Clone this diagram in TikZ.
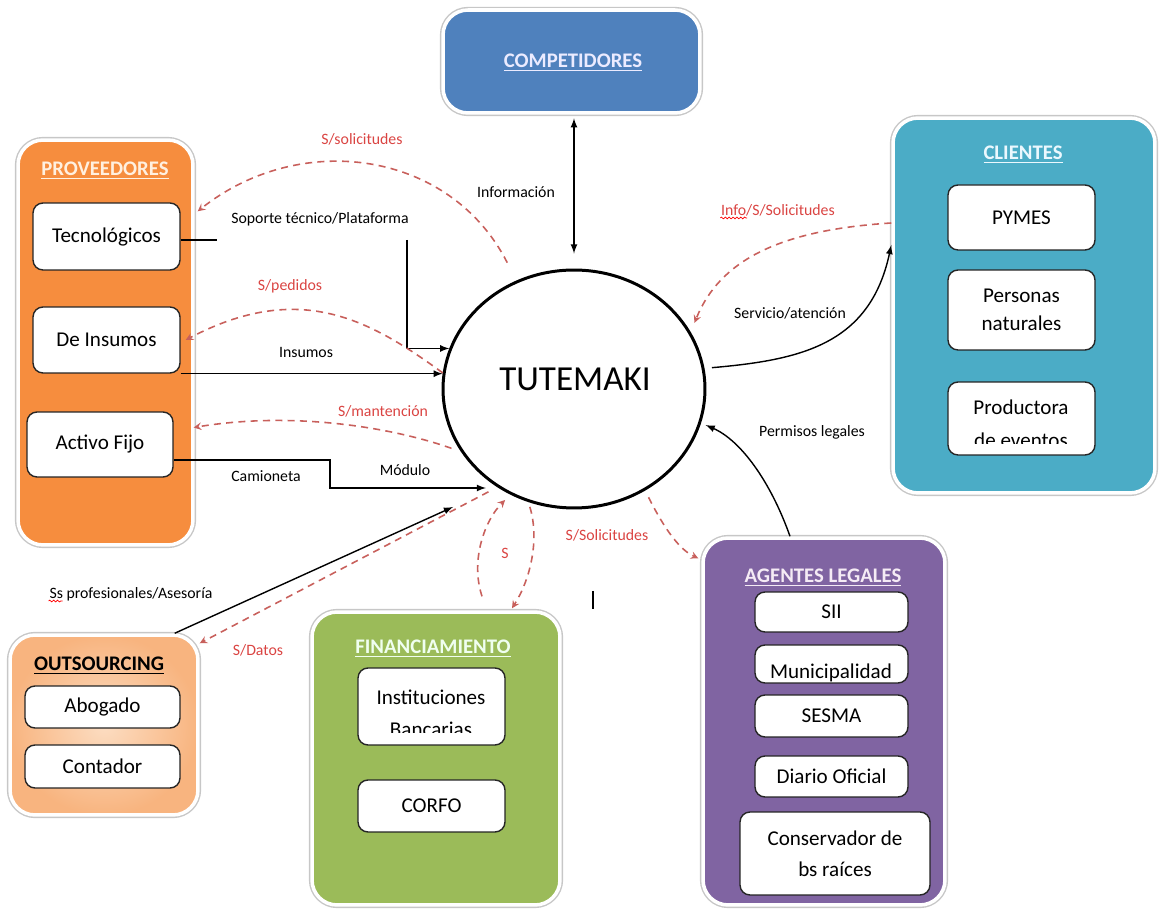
\documentclass[tikz,border=0pt]{standalone}
\usepackage{fontspec}
\setmainfont{Carlito}
\usetikzlibrary{calc,shapes.geometric,decorations.pathmorphing}
\definecolor{compblue}{HTML}{4F81BD}
\definecolor{provorange}{HTML}{F68D3E}
\definecolor{cliteal}{HTML}{4BACC6}
\definecolor{legpurple}{HTML}{8064A2}
\definecolor{fingreen}{HTML}{9BBB59}
\definecolor{outlight}{HTML}{FCDDC2}
\definecolor{outdark}{HTML}{F8B47F}
\definecolor{dashred}{HTML}{C8605C}
\definecolor{moneyred}{HTML}{DA4442}
\tikzset{
  grpbox/.style={draw=white, line width=2pt, rounded corners=0.5cm,
    preaction={draw=black!22, line width=3.6pt}},
  inbox/.style={draw=black!85, line width=0.8pt, fill=white, rounded corners=0.2cm,
    align=center, font=\fontsize{12}{16.5}\selectfont},
  ttl/.style={font=\bfseries\fontsize{11.8}{14}\selectfont},
  lbl/.style={font=\fontsize{9}{11}\selectfont},
  redlbl/.style={lbl, text=moneyred},
  money/.style={draw=dashred, dash pattern=on 4pt off 3pt, line width=0.9pt, -stealth},
  flow/.style={line width=0.8pt, -latex},
  squig/.style={draw=red, line width=0.4pt, decorate,
    decoration={snake, amplitude=0.5pt, segment length=2.2pt}}
}

\begin{document}
\begin{tikzpicture}[x=0.02cm, y=-0.02cm]
  \useasboundingbox (0,0) rectangle (1160,911);

  %%%%% GROUPS %%%%%
  \node[grpbox, fill=compblue, minimum width=5.14cm, minimum height=2.06cm] (comp) at (571.5,61.5) {};
  \node[ttl, text=blue!8] at (573,63) {\underline{COMPETIDORES}};

  \node[grpbox, fill=provorange, minimum width=3.5cm, minimum height=8.1cm] (prov) at (105.5,342.5) {};
  \node[ttl, text=orange!12] at (105,171) {\underline{PROVEEDORES}};
  \node[inbox, minimum width=2.94cm, minimum height=1.34cm] (tec) at (106.5,236.5) {Tecnológicos};
  \node[inbox, minimum width=2.94cm, minimum height=1.32cm] (ins) at (106.5,340) {De Insumos};
  \node[inbox, minimum width=2.92cm, minimum height=1.3cm] (act) at (100,444.5) {Activo Fijo};

  \node[grpbox, fill=cliteal, minimum width=5.24cm, minimum height=7.5cm] (cli) at (1024,305.5) {};
  \node[ttl, text=cyan!8] at (1023,155) {\underline{CLIENTES}};
  \node[inbox, minimum width=2.94cm, minimum height=1.3cm] (pym) at (1021.5,217.5) {PYMES};
  \node[inbox, minimum width=2.94cm, minimum height=1.6cm, font=\fontsize{12}{16}\selectfont] (per) at (1021.5,310) {Personas\\naturales};
  \node[inbox, minimum width=2.94cm, minimum height=1.46cm] (prod) at (1021.5,418.5) {};
  \begin{scope}
    \clip[rounded corners=0.2cm] ([yshift=6.8pt]prod.south west) rectangle (prod.north east);
    \node[align=center, font=\fontsize{12}{18.5}\selectfont] at (1021,424) {Productora\\de eventos};
  \end{scope}

  \node[grpbox, fill=legpurple, minimum width=4.84cm, minimum height=7.34cm] (leg) at (824,721.5) {};
  \node[ttl, text=violet!8] at (823,578) {\underline{AGENTES LEGALES}};
  \node[inbox, minimum width=3.06cm, minimum height=0.8cm] (sii) at (831.5,612) {SII};
  \node[inbox, minimum width=3.06cm, minimum height=0.76cm] (mun) at (831.5,664) {};
  \begin{scope}
    \clip[rounded corners=0.2cm] ([yshift=1.5pt]mun.south west) rectangle (mun.north east);
    \node[font=\fontsize{12}{14}\selectfont, anchor=base] at (831,679) {Municipalidad};
  \end{scope}
  \node[inbox, minimum width=3.06cm, minimum height=0.84cm] (ses) at (831.5,716) {SESMA};
  \node[inbox, minimum width=3.06cm, minimum height=0.82cm] (dia) at (831.5,776.5) {Diario Oficial};
  \node[inbox, minimum width=3.8cm, minimum height=1.66cm, font=\fontsize{12}{17.5}\selectfont] (con) at (835,853.5) {Conservador de\\bs raíces};

  \node[grpbox, fill=fingreen, minimum width=4.96cm, minimum height=5.86cm] (fin) at (436,758.5) {};
  \node[ttl, text=green!6] at (433,649) {\underline{FINANCIAMIENTO}};
  \node[inbox, minimum width=2.94cm, minimum height=1.54cm] (ban) at (431.5,706.5) {};
  \begin{scope}
    \clip[rounded corners=0.2cm] ([yshift=7.4pt]ban.south west) rectangle (ban.north east);
    \node[align=center, font=\fontsize{12}{18}\selectfont] at (431,713) {Instituciones\\Bancarias};
  \end{scope}
  \node[inbox, minimum width=2.94cm, minimum height=1.04cm] (cor) at (431.5,806) {CORFO};

  \node[grpbox, inner color=outlight, outer color=outdark, minimum width=3.76cm, minimum height=3.6cm] (out) at (104,725) {};
  \node[ttl] at (99,666) {\underline{OUTSOURCING}};
  \node[inbox, minimum width=3.1cm, minimum height=0.84cm] (abo) at (102.5,707) {Abogado};
  \node[inbox, minimum width=3.1cm, minimum height=0.86cm] (cont) at (102.5,766.5) {Contador};

  %%%%% CENTRE %%%%%
  \node[ellipse, draw, line width=1.7pt, minimum width=5.24cm, minimum height=4.76cm] (tut) at (574,389) {};
  \node[font=\fontsize{20}{24}\selectfont] (tutname) at (575,379) {TUTEMAKI};

  %%%%% BLACK FLOWS %%%%%
  \draw[latex-latex, line width=0.8pt, shorten >=0.3cm, shorten <=2pt] (tut.north |- comp.south) -- (tut.north);
  \node[lbl] at (516,192) {Información};

  \coordinate (sopA) at (217,240);
  \coordinate (sopB) at (407,240);
  \draw[line width=0.8pt] (tec.east |- sopA) -- (sopA);
  \draw[flow] (sopB) |- (tut.162);
  \node[lbl] at (320,219) {Soporte técnico/Plataforma};

  \draw[flow] (ins.south east) -- (ins.south east -| tut.173);
  \node[lbl] at (306,352) {Insumos};

  \coordinate (modA) at (330,488);
  \draw[flow, shorten >=0.3cm] (act.east |- 0,460) -| (modA) -- (modA -| tut.234);
  \node[lbl] at (266,476) {Camioneta};
  \node[lbl] at (405,470) {Módulo};

  \coordinate (ssEnd) at (453,507);
  \draw[flow] ([xshift=-0.5cm]out.north east) -- (ssEnd);
  \node[lbl] (lss) at (131,594) {Ss profesionales/Asesoría};
  \draw[squig] ([xshift=3pt,yshift=-1.6pt]lss.base west) -- ++(14,0);

  \draw[flow, shorten <=0.15cm] (tut.9) .. controls (800,360) and (870,345) .. (cli.west |- 0,245);
  \node[lbl] at (790,313) {Servicio/atención};

  \draw[flow, shorten >=0.1cm] ($(leg.north)+(-34,0)$) .. controls (770,480) and (740,440) .. (tut.345);
  \node[lbl] at (812,432) {Permisos legales};

  %%%%% MONEY FLOWS %%%%%
  \draw[money, shorten <=0.4cm] (tut.118) .. controls (450,150) and (300,130) .. ($(tec.north east)+(17,9)$);
  \node[redlbl] at (362,139) {S/solicitudes};

  \draw[money] (tut.173) .. controls (370,320) and (300,280) .. ($(ins.east)+(5,0)$);
  \node[redlbl] at (290,286) {S/pedidos};

  \draw[money, shorten <=0.2cm] (tut.209) .. controls (400,430) and (300,410) .. ($(act.east)+(20,-17)$);
  \node[redlbl] at (383,411) {S/mantención};

  \draw[money, shorten >=0.2cm] (cli.west |- 0,223) .. controls (780,230) and (720,260) .. (tut.26);
  \node[redlbl] (linfo) at (778,210) {Info/S/Solicitudes};
  \draw[squig] ([xshift=3pt,yshift=-1.6pt]linfo.base west) -- ++(27,0);

  \draw[money, shorten <=0.15cm] (tut.305) .. controls (665,530) and (680,550) .. ($(leg.north west)+(-3,22)$);
  \node[redlbl] at (607,535) {S/Solicitudes};

  \draw[money, shorten >=0.15cm] ($(fin.north)+(46,-14)$) .. controls (470,560) and (485,520) .. (tut.239);
  \draw[money, shorten <=0.1cm] (tut.248) .. controls (540,540) and (530,580) .. ($(fin.north)+(76,-2)$);
  \node[redlbl] at (505,553) {S};

  \draw[money, shorten <=0.2cm] (tut.232) -- ([yshift=-0.2cm]out.north east);
  \node[redlbl] at (258,650) {S/Datos};

  \draw[line width=1.3pt] (593,591) -- (593,609);
\end{tikzpicture}
\end{document}
